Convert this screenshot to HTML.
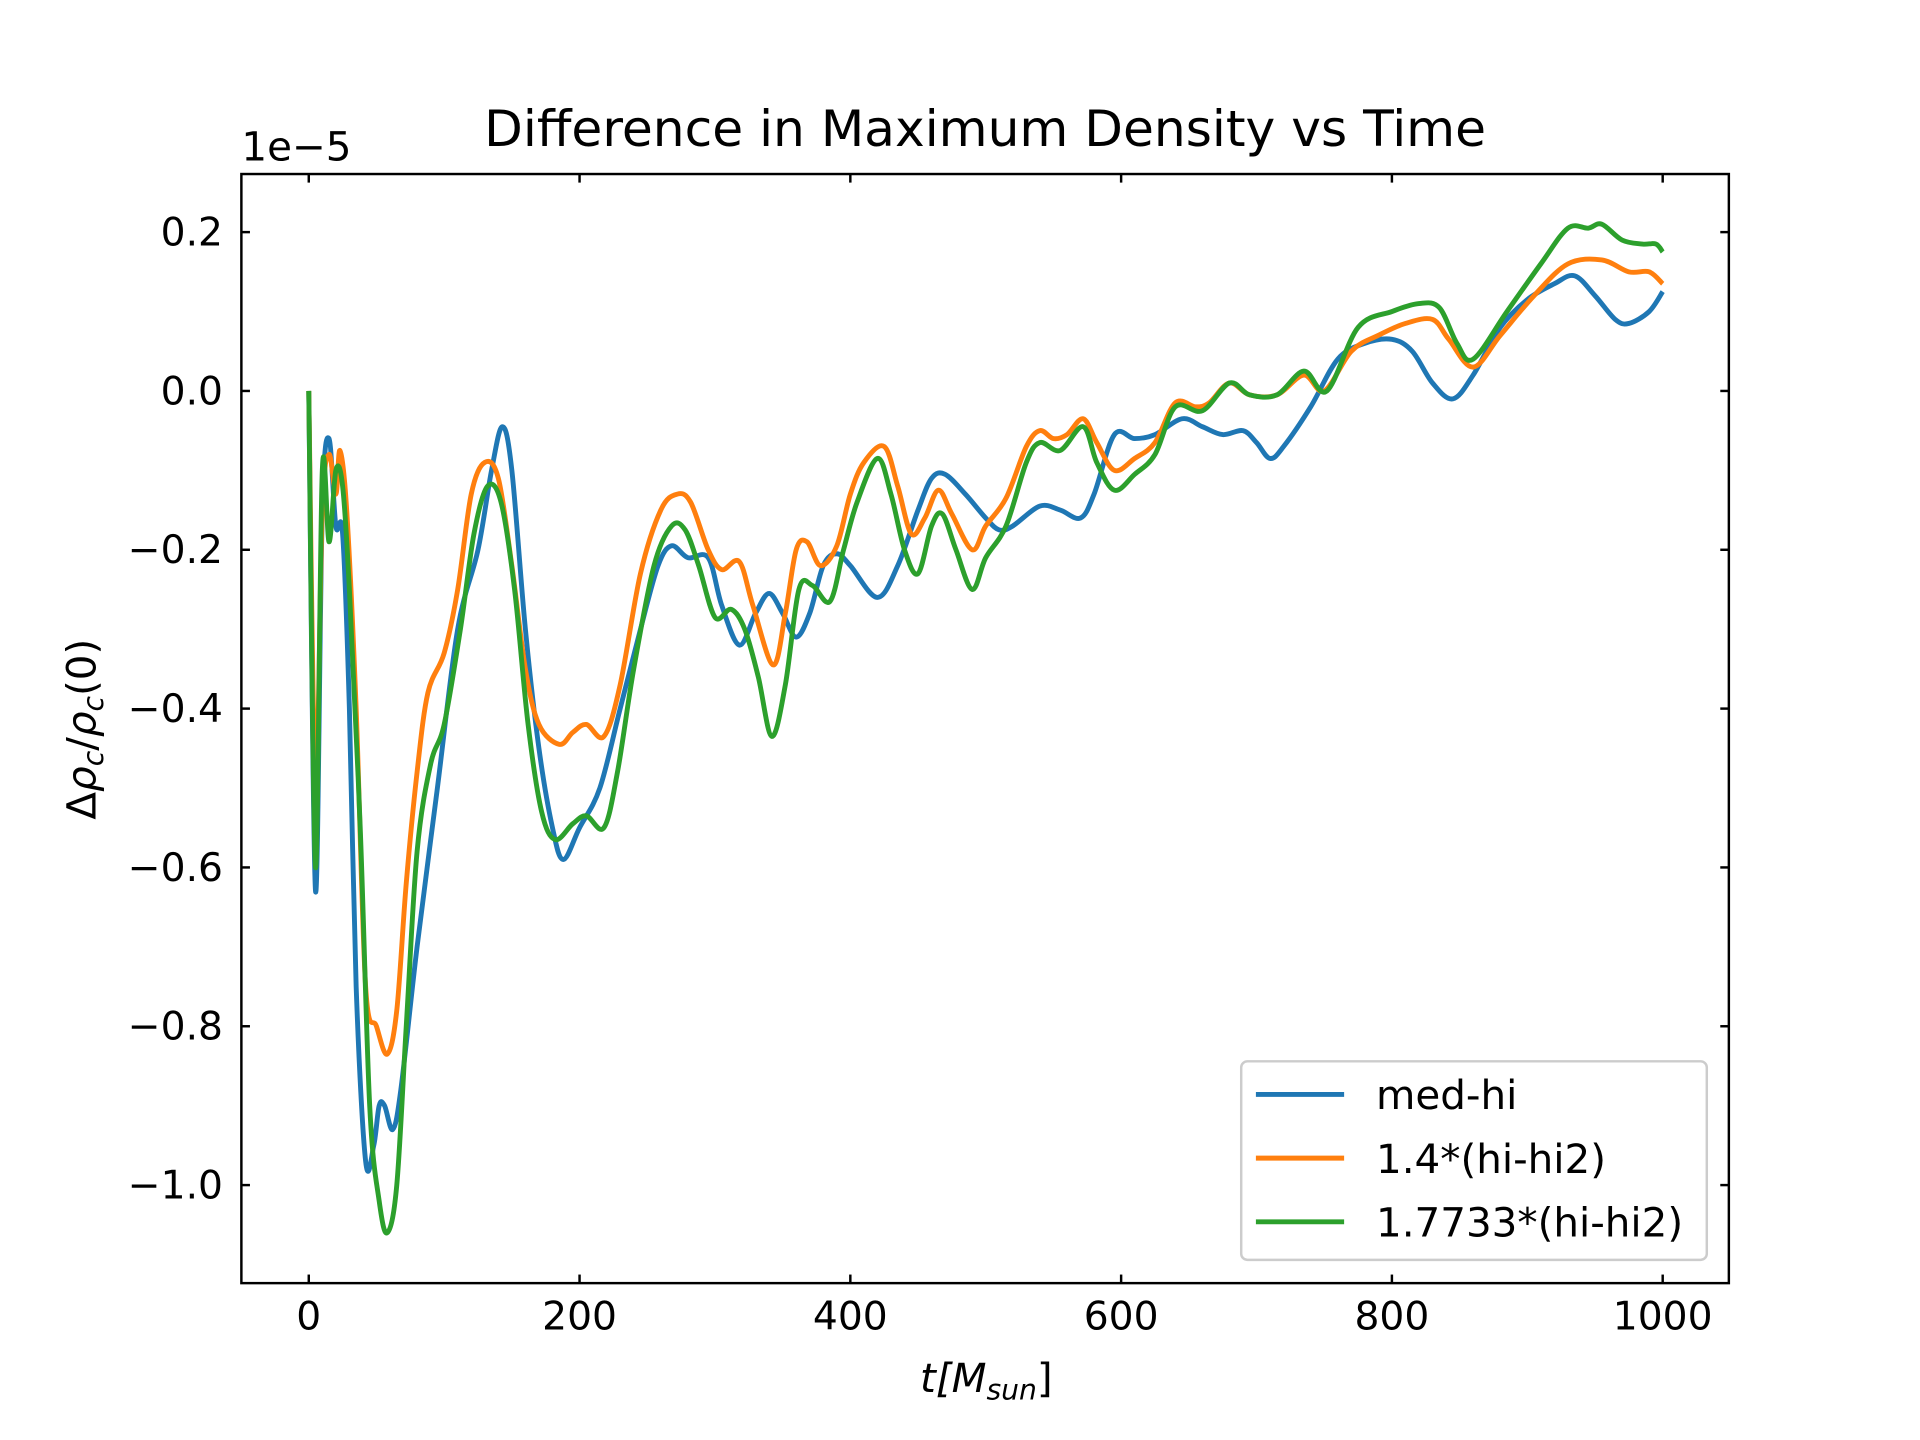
<!DOCTYPE html>
<html><head><meta charset="utf-8"><style>html,body{margin:0;padding:0;background:#fff}svg{display:block}</style></head>
<body>
<svg id="s" xmlns="http://www.w3.org/2000/svg" width="1920" height="1440" viewBox="0 0 1567 1175" preserveAspectRatio="none" font-family="DejaVu Sans, Liberation Sans, sans-serif">
<rect width="1567" height="1175" fill="#fff"/>
<g id="lines" fill="none" stroke-width="4" stroke-linejoin="round"></g>
<rect x="197" y="142" width="1214" height="905" fill="none" stroke="#000" stroke-width="2"/>
<g id="ticks" stroke="#000" stroke-width="2"></g>
<g id="labels" font-size="32" fill="#000"></g>
<text x="804" y="119" font-size="41" text-anchor="middle">Difference in Maximum Density vs Time</text>
<text x="197" y="131" font-size="33">1e−5</text>
<text x="805" y="1136" font-size="33" text-anchor="middle" font-style="italic">t[M<tspan font-size="23" dy="6">sun</tspan><tspan dy="-6" font-style="normal">]</tspan></text>
<text transform="translate(78,595) rotate(-90)" font-size="33" text-anchor="middle">Δ<tspan font-style="italic">ρ</tspan><tspan font-size="23" dy="6" font-style="italic">c</tspan><tspan dy="-6">/</tspan><tspan font-style="italic">ρ</tspan><tspan font-size="23" dy="6" font-style="italic">c</tspan><tspan dy="-6">(0)</tspan></text>
<rect x="1013" y="866" width="380" height="162" rx="5" fill="#fff" fill-opacity="0.8" stroke="#ccc" stroke-width="2"/>
<line x1="1025" y1="893" x2="1097" y2="893" stroke="#1f77b4" stroke-width="4"/>
<line x1="1025" y1="945" x2="1097" y2="945" stroke="#ff7f0e" stroke-width="4"/>
<line x1="1025" y1="997" x2="1097" y2="997" stroke="#2ca02c" stroke-width="4"/>
<text x="1123" y="905" font-size="33">med-hi</text>
<text x="1123" y="957" font-size="33">1.4*(hi-hi2)</text>
<text x="1123" y="1009" font-size="33">1.7733*(hi-hi2)</text>
</svg>
<script>
const X=t=>252+t*1.105, Y=v=>319-v*648;
const B=[[0,0],[5,-0.63],[10,-0.15],[15,-0.06],[20,-0.17],[25,-0.18],[30,-0.4],[35,-0.75],[42,-0.97],[48,-0.95],[52,-0.9],[56,-0.9],[62,-0.93],[68,-0.88],[80,-0.7],[95,-0.5],[110,-0.3],[125,-0.2],[135,-0.1],[143,-0.045],[150,-0.1],[160,-0.3],[170,-0.45],[180,-0.55],[188,-0.59],[200,-0.55],[215,-0.5],[230,-0.4],[245,-0.3],[258,-0.22],[268,-0.195],[280,-0.21],[295,-0.21],[305,-0.27],[318,-0.32],[330,-0.28],[340,-0.255],[350,-0.28],[360,-0.31],[370,-0.28],[380,-0.22],[390,-0.205],[400,-0.22],[420,-0.26],[435,-0.22],[450,-0.15],[460,-0.11],[470,-0.105],[485,-0.13],[500,-0.16],[510,-0.175],[520,-0.17],[540,-0.145],[555,-0.15],[570,-0.16],[580,-0.13],[595,-0.055],[610,-0.06],[625,-0.055],[645,-0.035],[660,-0.045],[675,-0.055],[690,-0.05],[700,-0.065],[710,-0.085],[720,-0.07],[740,-0.02],[760,0.04],[780,0.06],[800,0.065],[815,0.05],[830,0.01],[845,-0.01],[860,0.02],[880,0.08],[900,0.115],[920,0.135],[935,0.145],[950,0.12],[965,0.09],[975,0.085],[990,0.1],[1000,0.125]];
const O=[[0,0],[5,-0.5],[10,-0.15],[15,-0.08],[20,-0.13],[23,-0.075],[28,-0.15],[35,-0.4],[42,-0.75],[50,-0.8],[58,-0.835],[65,-0.78],[72,-0.62],[80,-0.48],[88,-0.38],[100,-0.33],[110,-0.25],[120,-0.13],[130,-0.09],[140,-0.11],[150,-0.22],[160,-0.35],[170,-0.42],[185,-0.445],[195,-0.43],[205,-0.42],[218,-0.435],[230,-0.37],[245,-0.23],[260,-0.15],[272,-0.13],[282,-0.14],[295,-0.2],[305,-0.225],[318,-0.215],[328,-0.27],[343,-0.345],[352,-0.28],[360,-0.2],[368,-0.19],[378,-0.22],[390,-0.195],[400,-0.13],[410,-0.09],[425,-0.07],[435,-0.12],[445,-0.18],[455,-0.16],[465,-0.125],[475,-0.155],[490,-0.2],[500,-0.17],[515,-0.135],[530,-0.07],[540,-0.05],[550,-0.06],[560,-0.055],[572,-0.035],[582,-0.065],[595,-0.1],[610,-0.085],[625,-0.065],[640,-0.015],[655,-0.02],[665,-0.015],[680,0.01],[695,-0.005],[715,-0.005],[735,0.02],[750,0.0],[770,0.05],[790,0.07],[810,0.085],[830,0.09],[842,0.065],[860,0.03],[880,0.07],[905,0.12],[930,0.16],[955,0.165],[975,0.15],[990,0.15],[1000,0.135]];
const G=[[0,0],[5,-0.6],[10,-0.1],[15,-0.19],[20,-0.1],[25,-0.12],[30,-0.25],[38,-0.55],[45,-0.9],[52,-1.02],[58,-1.06],[65,-1.0],[72,-0.8],[80,-0.58],[90,-0.47],[100,-0.42],[112,-0.3],[122,-0.18],[132,-0.12],[142,-0.14],[152,-0.25],[162,-0.42],[172,-0.53],[182,-0.565],[195,-0.545],[205,-0.535],[218,-0.55],[228,-0.48],[240,-0.35],[255,-0.22],[268,-0.17],[278,-0.175],[288,-0.22],[300,-0.285],[312,-0.275],[322,-0.3],[332,-0.36],[342,-0.435],[352,-0.37],[362,-0.25],[372,-0.245],[385,-0.265],[395,-0.2],[405,-0.14],[420,-0.085],[430,-0.13],[440,-0.2],[450,-0.23],[460,-0.17],[468,-0.155],[478,-0.2],[490,-0.25],[500,-0.21],[515,-0.17],[530,-0.09],[540,-0.065],[555,-0.075],[572,-0.045],[582,-0.09],[595,-0.125],[610,-0.105],[625,-0.08],[640,-0.02],[660,-0.025],[680,0.01],[695,-0.005],[715,-0.005],[735,0.025],[752,0.0],[775,0.08],[800,0.1],[820,0.11],[835,0.105],[848,0.06],[860,0.04],[885,0.1],[910,0.16],[930,0.205],[945,0.205],[955,0.21],[970,0.19],[985,0.185],[995,0.185],[1000,0.175]];
const NS="http://www.w3.org/2000/svg";
function path(d){let p=d.map(a=>[X(a[0]),Y(a[1])]);let s="M"+p[0][0]+","+p[0][1];
for(let i=0;i<p.length-1;i++){const p0=p[i-1]||p[i],p1=p[i],p2=p[i+1],p3=p[i+2]||p2;const t=1/6;
s+=` C${p1[0]+(p2[0]-p0[0])*t},${p1[1]+(p2[1]-p0[1])*t} ${p2[0]-(p3[0]-p1[0])*t},${p2[1]-(p3[1]-p1[1])*t} ${p2[0]},${p2[1]}`;}return s;}
const L=document.getElementById("lines");
[[B,"#1f77b4"],[O,"#ff7f0e"],[G,"#2ca02c"]].forEach(([d,c])=>{const e=document.createElementNS(NS,"path");e.setAttribute("d",path(d));e.setAttribute("stroke",c);L.appendChild(e);});
const T=document.getElementById("ticks"),Lb=document.getElementById("labels");
function ln(a,b,c,d){const e=document.createElementNS(NS,"line");e.setAttribute("x1",a);e.setAttribute("y1",b);e.setAttribute("x2",c);e.setAttribute("y2",d);T.appendChild(e);}
function tx(x,y,s,anc){const e=document.createElementNS(NS,"text");e.setAttribute("x",x);e.setAttribute("y",y);e.setAttribute("text-anchor",anc);e.textContent=s;Lb.appendChild(e);}
for(let t=0;t<=1000;t+=200){const x=X(t);ln(x,1047,x,1040);ln(x,142,x,149);tx(x,1085,String(t),"middle");}
for(let k=-5;k<=1;k++){const v=k*0.2,y=Y(v);ln(197,y,204,y);ln(1411,y,1404,y);tx(182,y+11,(v<-1e-9?"−":"")+Math.abs(v).toFixed(1),"end");}
</script>
</body></html>
